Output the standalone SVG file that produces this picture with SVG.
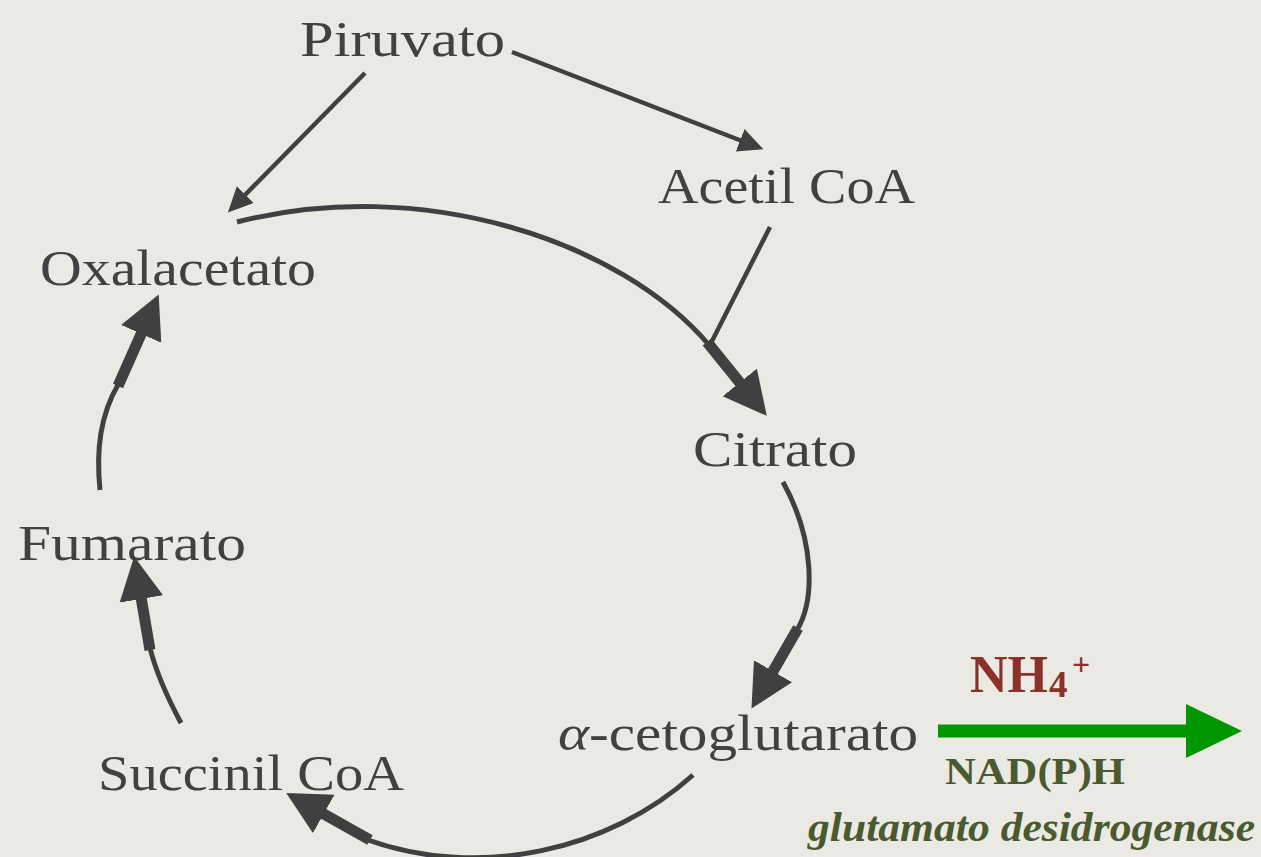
<svg xmlns="http://www.w3.org/2000/svg" width="1261" height="857" viewBox="0 0 1261 857">
<style>
.lbl{font-family:"Liberation Serif","Times New Roman",serif;font-size:50px;fill:#414141}
.thin{fill:none;stroke:#404040;stroke-width:5;stroke-linecap:butt}
.thick{fill:none;stroke:#404040;stroke-width:11}
.sline{fill:none;stroke:#404040;stroke-width:4.5}
</style>
<defs>
<marker id="big" markerUnits="userSpaceOnUse" markerWidth="50" markerHeight="50" refX="2" refY="22" orient="auto">
<path d="M0,0 L43,22 L0,44 z" fill="#404040"/>
</marker>
<marker id="small" markerUnits="userSpaceOnUse" markerWidth="30" markerHeight="28" refX="2" refY="12" orient="auto">
<path d="M0,0 L25,12 L0,24 z" fill="#404040"/>
</marker>
<marker id="green" markerUnits="userSpaceOnUse" markerWidth="60" markerHeight="60" refX="1" refY="27" orient="auto">
<path d="M0,0 L56,27 L0,54 z" fill="#009600"/>
</marker>
</defs>
<rect width="1261" height="857" fill="#ebe9e4"/>

<g id="connectors">
<path class="sline" d="M512,52 L742,141" marker-end="url(#small)"/>
<path class="sline" d="M365,73 L244,196" marker-end="url(#small)"/>
<path class="sline" d="M770,227 L710,345"/>
<path class="thin" d="M237,222 C420,175 620,240 709,345"/>
<path class="thick" d="M707,342 L741,384" marker-end="url(#big)"/>
<path class="thin" d="M783,482 C815,540 815,600 797,630"/>
<path class="thick" d="M798,628 L772,673" marker-end="url(#big)"/>
<path class="thin" d="M693,775 C610,850 480,880 368,840"/>
<path class="thick" d="M370,840 L322,813" marker-end="url(#big)"/>
<path class="thin" d="M181,723 Q158,680 150,648"/>
<path class="thick" d="M150,650 L141,597" marker-end="url(#big)"/>
<path class="thin" d="M100,490 C96,450 100,415 119,383"/>
<path class="thick" d="M118,386 L142,332" marker-end="url(#big)"/>
<path d="M938,731 L1187,731" fill="none" stroke="#009600" stroke-width="13" marker-end="url(#green)"/>
</g>

<g id="piruvato"><text class="lbl" x="300" y="56" textLength="205" lengthAdjust="spacingAndGlyphs">Piruvato</text></g>
<g id="acetilcoa"><text class="lbl" x="658" y="203" textLength="257" lengthAdjust="spacingAndGlyphs">Acetil CoA</text></g>
<g id="oxalacetato"><text class="lbl" x="40" y="285" textLength="276" lengthAdjust="spacingAndGlyphs">Oxalacetato</text></g>
<g id="citrato"><text class="lbl" x="693" y="466" textLength="164" lengthAdjust="spacingAndGlyphs">Citrato</text></g>
<g id="fumarato"><text class="lbl" x="18" y="560" textLength="228" lengthAdjust="spacingAndGlyphs">Fumarato</text></g>
<g id="acetoglutarato"><text class="lbl" x="558" y="750" textLength="360" lengthAdjust="spacingAndGlyphs"><tspan font-style="italic">α</tspan>-cetoglutarato</text></g>
<g id="succinilcoa"><text class="lbl" x="98" y="790" textLength="306" lengthAdjust="spacingAndGlyphs">Succinil CoA</text></g>

<g id="gdh">
<text x="970" y="692" font-family="Liberation Serif,serif" font-weight="bold" font-size="52" fill="#8a3128">NH<tspan x="1049" font-size="37" dy="5">4</tspan><tspan x="1072" font-size="32" dy="-22">+</tspan></text>
<text x="945" y="784" font-family="Liberation Serif,serif" font-weight="bold" font-size="37" fill="#4a5a2f" textLength="180" lengthAdjust="spacingAndGlyphs">NAD(P)H</text>
<text x="808" y="841" font-family="Liberation Serif,serif" font-weight="bold" font-style="italic" font-size="42" fill="#4a5a2f" textLength="447" lengthAdjust="spacingAndGlyphs">glutamato desidrogenase</text>
</g>
</svg>
